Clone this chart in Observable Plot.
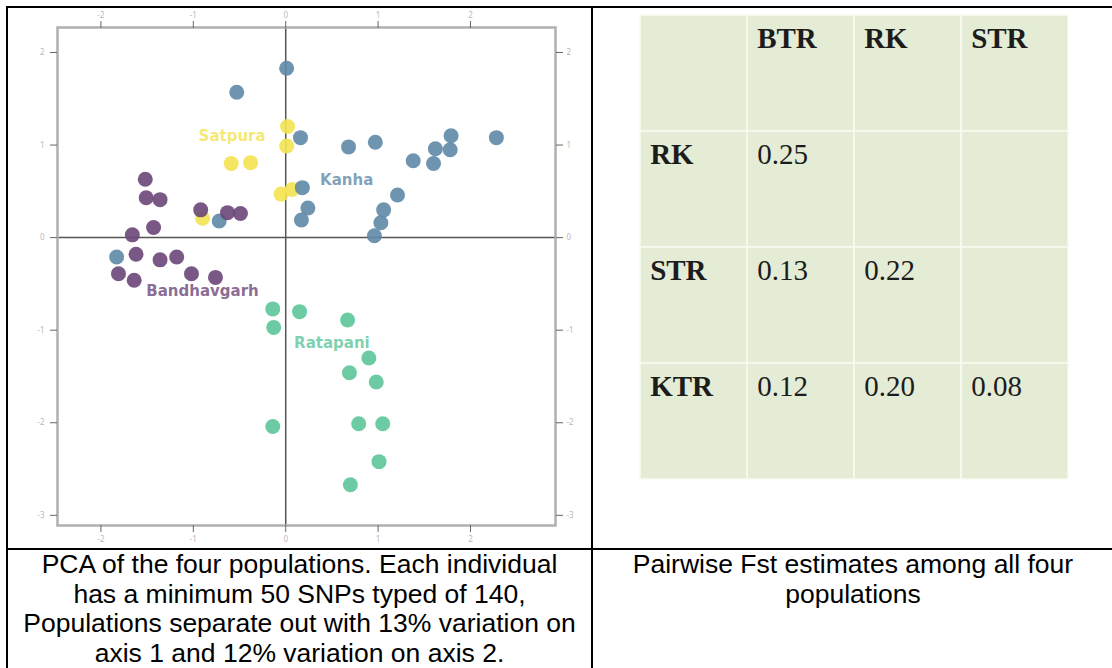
<!DOCTYPE html>
<html><head><meta charset="utf-8">
<script src="https://cdn.jsdelivr.net/npm/d3@7"></script>
<script src="https://cdn.jsdelivr.net/npm/@observablehq/plot@0.6"></script>
<style>
html,body{margin:0;padding:0;background:#fff;}
#root{position:relative;width:1112px;height:668px;overflow:hidden;background:#fff;}
.ln{position:absolute;background:#000;}
.cap{position:absolute;font-family:"Liberation Sans",Arial,sans-serif;font-size:26.5px;line-height:29.5px;text-align:center;color:#000;white-space:nowrap;}
</style></head><body>
<div id="root">
 <div class="ln" style="left:6px;top:6px;width:1120px;height:2px"></div>
 <div class="ln" style="left:6px;top:6px;width:2px;height:700px"></div>
 <div class="ln" style="left:591px;top:6px;width:2px;height:700px"></div>
 <div class="ln" style="left:6px;top:548px;width:1120px;height:2px"></div>
 <div id="pca" style="position:absolute;left:9px;top:8px"></div>
 <div id="fst" style="position:absolute;left:638px;top:14px"></div>
 <div class="cap" style="left:8px;top:550px;width:583px">PCA of the four populations. Each individual<br>has a minimum 50 SNPs typed of 140,<br>Populations separate out with 13% variation on<br>axis 1 and 12% variation on axis 2.</div>
 <div class="cap" style="left:593px;top:550px;width:520px">Pairwise Fst estimates among all four<br>populations</div>
</div>
<script>
// ---------- PCA data ----------
const populations = ["Satpura", "Kanha", "Bandhavgarh", "Ratapani"];
const popColors = ["#f3e34f", "#5f88a7", "#6a4679", "#5dc59a"];

const satpuraPC1 = [0.02, 0.01, -0.59, -0.38, -0.05, 0.07, -0.90];
const satpuraPC2 = [1.20, 0.99, 0.80, 0.81, 0.47, 0.52, 0.21];

const kanhaPC1 = [0.01, -0.53, 0.16, 0.68, 0.97, 1.38, 1.62, 1.60, 1.79, 1.78, 2.28, 0.18, 0.24, 0.17, 1.21, 1.06, 1.03, 0.96, -0.72, -1.83];
const kanhaPC2 = [1.83, 1.57, 1.08, 0.98, 1.03, 0.83, 0.96, 0.80, 1.10, 0.95, 1.08, 0.54, 0.32, 0.19, 0.46, 0.30, 0.16, 0.02, 0.18, -0.21];

const bandhavgarhPC1 = [-1.52, -1.51, -1.36, -0.92, -0.63, -0.49, -1.43, -1.66, -1.62, -1.36, -1.18, -1.81, -1.64, -1.02, -0.76];
const bandhavgarhPC2 = [0.63, 0.43, 0.41, 0.30, 0.27, 0.26, 0.11, 0.03, -0.18, -0.24, -0.21, -0.39, -0.46, -0.39, -0.43];

const ratapaniPC1 = [-0.14, 0.15, -0.13, -0.14, 0.67, 0.90, 0.69, 0.98, 0.79, 1.05, 1.01, 0.70];
const ratapaniPC2 = [-0.77, -0.80, -0.97, -2.04, -0.89, -1.30, -1.46, -1.56, -2.01, -2.01, -2.42, -2.67];

// population label annotations
const labelNames = ["Satpura", "Kanha", "Bandhavgarh", "Ratapani"];
const labelPC1 = [-0.58, 0.66, -0.90, 0.50];
const labelPC2 = [1.10, 0.62, -0.58, -1.14];

const xTicks = [-2, -1, 0, 1, 2];
const yTicks = [-3, -2, -1, 0, 1, 2];

// ---------- Fst table data ----------
const fstCols = ["BTR", "RK", "STR"];
const fstRows = ["RK", "STR", "KTR"];
const fstValues = [
  [0.25, null, null],
  [0.13, 0.22, null],
  [0.12, 0.20, 0.08]
];

// ---------- build PCA ----------
const series = {
  Satpura: [satpuraPC1, satpuraPC2],
  Kanha: [kanhaPC1, kanhaPC2],
  Bandhavgarh: [bandhavgarhPC1, bandhavgarhPC2],
  Ratapani: [ratapaniPC1, ratapaniPC2]
};
const points = [];
for (const p of populations) {
  const [a, b] = series[p];
  a.forEach((v, i) => points.push({pop: p, pc1: v, pc2: b[i]}));
}
const labels = labelNames.map((n, i) => ({pop: n, pc1: labelPC1[i], pc2: labelPC2[i]}));

const intFmt = d => String(Math.round(d)).replace("−", "-");
const axisCommon = {label: null, stroke: "#666", fill: "#b8b8b8", fontSize: 8, tickSize: 7, tickFormat: intFmt};

const pca = Plot.plot({
  width: 582, height: 539,
  marginLeft: 48, marginRight: 36, marginTop: 19, marginBottom: 22,
  style: {background: "transparent", overflow: "visible"},
  x: {domain: [-2.47, 2.92]},
  y: {domain: [-3.11, 2.27]},
  color: {domain: populations, range: popColors},
  marks: [
    Plot.ruleX([0], {stroke: "#555", strokeWidth: 1.5}),
    Plot.ruleY([0], {stroke: "#555", strokeWidth: 1.5}),
    Plot.dot(points, {x: "pc1", y: "pc2", fill: "pop", r: 7.5, fillOpacity: 0.9}),
    Plot.text(labels, {x: "pc1", y: "pc2", text: "pop", fill: "pop", fillOpacity: 0.8,
      fontSize: 15, fontWeight: "bold", fontFamily: "DejaVu Sans"}),
    Plot.frame({stroke: "#b0b0b0", strokeWidth: 2.5}),
    Plot.axisX(xTicks, {anchor: "bottom", tickPadding: 4, ...axisCommon}),
    Plot.axisX(xTicks, {anchor: "top", tickPadding: 3, ...axisCommon}),
    Plot.axisY(yTicks, {anchor: "left", tickPadding: 6, ...axisCommon}),
    Plot.axisY(yTicks, {anchor: "right", tickPadding: 4, ...axisCommon})
  ]
});
document.getElementById("pca").append(pca);

// ---------- build Fst table ----------
const colDomain = ["_", ...fstCols];
const rowDomain = ["_", ...fstRows];
const cells = [];
for (const r of rowDomain) for (const c of colDomain) cells.push({r, c});
const heads = [];
fstCols.forEach(c => heads.push({r: "_", c, t: c}));
fstRows.forEach(r => heads.push({r, c: "_", t: r}));
const vals = [];
fstRows.forEach((r, i) => fstValues[i].forEach((v, j) => {
  if (v != null) vals.push({r, c: fstCols[j], t: d3.format(".2f")(v)});
}));

const tW = 431, tH = 466;
const bw = tW / colDomain.length, bh = tH / rowDomain.length;
const textCommon = {x: "c", y: "r", text: "t", textAnchor: "start", lineAnchor: "bottom",
  dx: -bw / 2 + 10, dy: -26, fontSize: 29, fontFamily: "Liberation Serif", fill: "#1c1c1c"};

const fst = Plot.plot({
  width: tW, height: tH, margin: 0,
  style: {background: "transparent", overflow: "visible"},
  x: {type: "band", domain: colDomain, padding: 0, axis: null},
  y: {type: "band", domain: rowDomain, padding: 0, axis: null},
  marks: [
    Plot.cell(cells, {x: "c", y: "r", fill: "#e4ecd5", stroke: "#f8fbf2", strokeWidth: 1.5}),
    Plot.text(heads, {...textCommon, fontWeight: "bold"}),
    Plot.text(vals, {...textCommon})
  ]
});
document.getElementById("fst").append(fst);
</script>
</body></html>
